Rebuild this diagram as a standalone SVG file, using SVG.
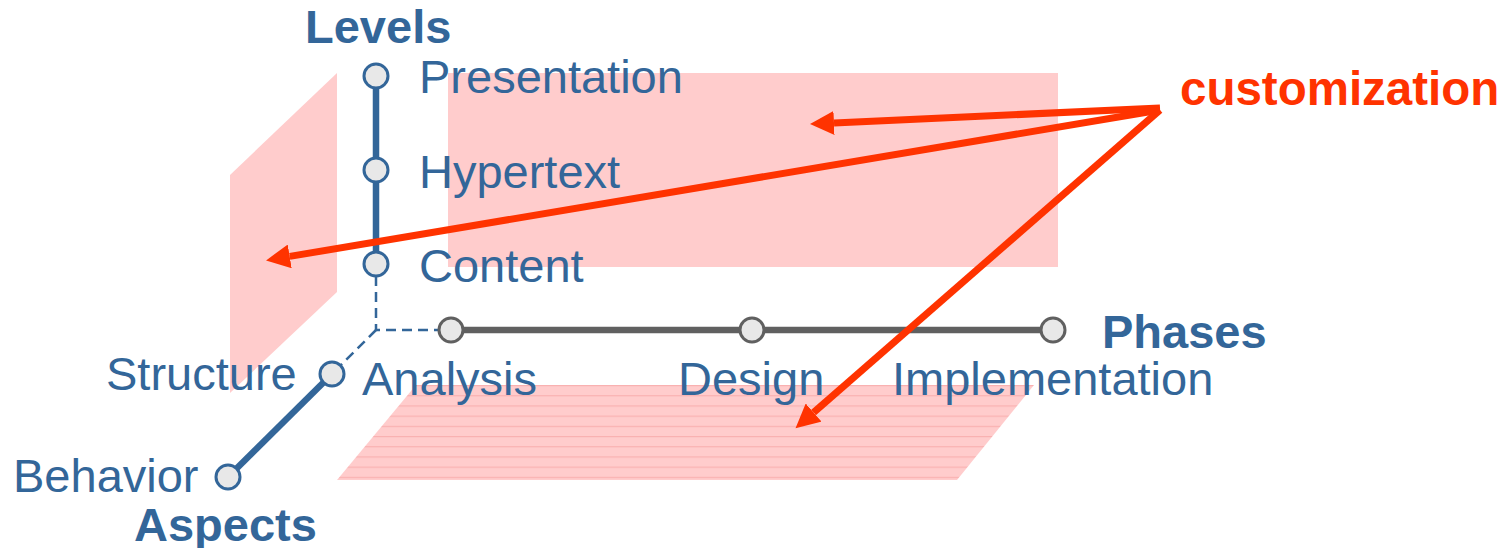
<svg xmlns="http://www.w3.org/2000/svg" width="1508" height="548" viewBox="0 0 1508 548">
<style>
.plane{fill:#ffcccc}
.t{font-family:"Liberation Sans",Arial,sans-serif;font-size:47px;fill:#336699}
.b{font-weight:bold}
.red{fill:#ff3300}
.lv{fill:#e8e8e8;stroke:#336699;stroke-width:3}
.ph{fill:#e8e8e8;stroke:#606060;stroke-width:3}
.axis-b{stroke:#336699;stroke-width:6.5;fill:none}
.axis-g{stroke:#606060;stroke-width:6.5;fill:none}
.dash{stroke:#336699;stroke-width:2.5;stroke-dasharray:10 6;fill:none}
.arr{stroke:#ff3300;stroke-width:7;fill:none;marker-end:url(#ah)}
</style>
<defs>
<pattern id="stripes" patternUnits="userSpaceOnUse" x="0" y="385" width="40" height="10.2">
<rect width="40" height="10.2" fill="#ffcccc"/>
<line x1="0" y1="0.6" x2="40" y2="0.6" stroke="#f9b0b0" stroke-width="1.2"/>
</pattern>
<marker id="ah" markerUnits="userSpaceOnUse" markerWidth="26" markerHeight="24" refX="0" refY="12" orient="auto">
<path d="M0,0 L24,12 L0,24 z" fill="#ff3300"/>
</marker>
</defs>
<g id="planes">
<polygon id="plane-left" class="plane" points="230,175 337,73 337,292 230,393"/>
<rect id="plane-back" class="plane" x="448" y="73" width="610" height="194"/>
<polygon id="plane-bottom" points="416,385 1034,385 957,480 337,480" fill="url(#stripes)"/>
</g>
<g id="axes">
<line class="axis-b" x1="376" y1="76" x2="376" y2="264"/>
<path class="dash" d="M376,276 V330 H439"/>
<line class="dash" x1="376" y1="330" x2="340" y2="366"/>
<line class="axis-b" x1="332" y1="374" x2="228" y2="477"/>
<line class="axis-g" x1="451" y1="330" x2="1053" y2="330"/>
</g>
<g id="node-presentation"><circle class="lv" cx="376" cy="76" r="12"/><text class="t" x="419" y="93">Presentation</text></g>
<g id="node-hypertext"><circle class="lv" cx="376" cy="170" r="12"/><text class="t" x="419" y="188">Hypertext</text></g>
<g id="node-content"><circle class="lv" cx="376" cy="264" r="12"/><text class="t" x="419" y="282">Content</text></g>
<g id="node-analysis"><circle class="ph" cx="451" cy="330" r="12"/><text class="t" x="362" y="395">Analysis</text></g>
<g id="node-design"><circle class="ph" cx="752" cy="330" r="12"/><text class="t" x="678" y="395">Design</text></g>
<g id="node-implementation"><circle class="ph" cx="1053" cy="330" r="12"/><text class="t" x="892" y="395">Implementation</text></g>
<g id="node-structure"><circle class="lv" cx="332" cy="374" r="12"/><text class="t" x="106" y="390">Structure</text></g>
<g id="node-behavior"><circle class="lv" cx="228" cy="477" r="12"/><text class="t" x="13" y="492">Behavior</text></g>
<g id="labels">
<text class="t b" x="305" y="43">Levels</text>
<text class="t b" x="1102" y="348">Phases</text>
<text class="t b" x="134" y="541">Aspects</text>
</g>
<g id="node-customization"><text class="t b red" x="1180" y="105" style="font-size:47.5px">customization</text></g>
<g id="connectors">
<line class="arr" x1="1160" y1="108" x2="834" y2="123"/>
<line class="arr" x1="1160" y1="110" x2="289.7" y2="256.4"/>
<line class="arr" x1="1160" y1="110" x2="813.6" y2="412.5"/>
</g>
</svg>
